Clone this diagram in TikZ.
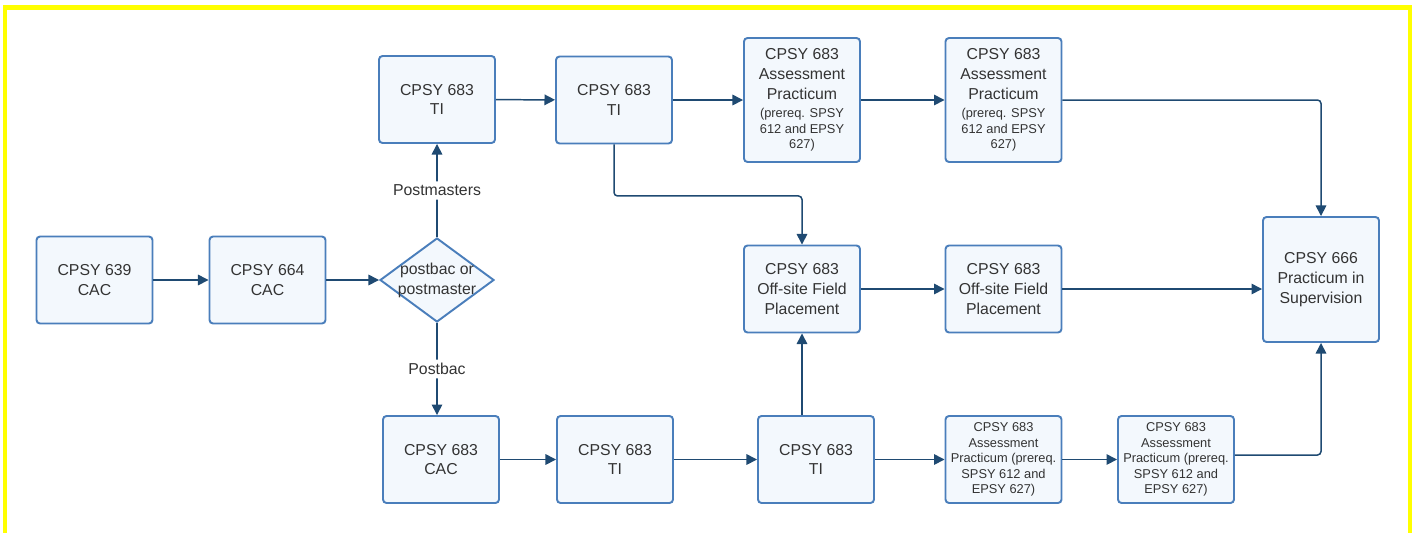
\documentclass[tikz,border=0pt]{standalone}
\usepackage{fontspec}
\setmainfont{Liberation Sans}
\usepackage{tikz}
\usetikzlibrary{arrows.meta,shapes.geometric}
\definecolor{boxLine}{HTML}{4A7EBB}
\definecolor{boxFill}{HTML}{F3F8FD}
\definecolor{flowLine}{HTML}{1F4A72}
\definecolor{textGrey}{HTML}{333333}
\definecolor{frameYellow}{HTML}{FFFF00}
\newcommand\prereqsize{\fontsize{7.3}{8.8}\selectfont}
\tikzset{
  course/.style={draw=boxLine,fill=boxFill,line width=1.1pt,rounded corners=2pt,
    minimum width=2.32cm,minimum height=1.74cm,inner sep=1pt,align=center,
    text=textGrey,font=\fontsize{9}{11.3}\selectfont},
  tallcourse/.style={course,minimum height=2.48cm},
  smalltext/.style={font=\prereqsize},
  decision/.style={diamond,draw=boxLine,fill=boxFill,line width=1.1pt,
    minimum width=2.28cm,minimum height=1.68cm,inner sep=-4.5pt,align=center,
    text=textGrey,font=\fontsize{9}{11.3}\selectfont},
  flow/.style={draw=flowLine,line width=0.85pt,rounded corners=2pt,
    -{Triangle[length=6pt,width=6pt]}},
  pathlabel/.style={fill=white,text=textGrey,inner sep=2pt,font=\fontsize{9}{11.3}\selectfont}
}
\begin{document}
\begin{tikzpicture}
\useasboundingbox (0,0) rectangle (28.26,-10.64);
\draw[frameYellow,line width=2.3pt] (0.10,-0.15) rectangle (28.20,-11);
% entry courses
\node[course] (cac639) at (1.89,-5.60) {CPSY 639\\CAC};
\node[course] (cac664) at (5.35,-5.60) {CPSY 664\\CAC};
\node[decision] (choice) at (8.74,-5.60) {postbac or\\postmaster};
% postmasters track
\node[course] (tiA) at (8.74,-1.99) {CPSY 683\\TI};
\node[course] (tiB) at (12.28,-2.00) {CPSY 683\\TI};
\node[tallcourse] (assessA) at (16.04,-2.00) {CPSY 683\\Assessment\\Practicum\\[-1pt]\prereqsize (prereq. SPSY\\[-2.5pt]\prereqsize 612 and EPSY\\[-2.5pt]\prereqsize 627)};
\node[tallcourse] (assessB) at (20.07,-2.00) {CPSY 683\\Assessment\\Practicum\\[-1pt]\prereqsize (prereq. SPSY\\[-2.5pt]\prereqsize 612 and EPSY\\[-2.5pt]\prereqsize 627)};
% field placements
\node[course] (fieldA) at (16.04,-5.78) {CPSY 683\\Off-site Field\\Placement};
\node[course] (fieldB) at (20.07,-5.78) {CPSY 683\\Off-site Field\\Placement};
\node[course,minimum height=2.50cm] (sup666) at (26.42,-5.59) {CPSY 666\\Practicum in\\Supervision};
% postbac track
\node[course] (cac683) at (8.82,-9.19) {CPSY 683\\CAC};
\node[course] (tiC) at (12.30,-9.19) {CPSY 683\\TI};
\node[course] (tiD) at (16.32,-9.19) {CPSY 683\\TI};
\node[course,smalltext] (assessC) at (20.07,-9.19) {CPSY 683\\Assessment\\Practicum (prereq.\\SPSY 612 and\\EPSY 627)};
\node[course,smalltext] (assessD) at (23.52,-9.19) {CPSY 683\\Assessment\\Practicum (prereq.\\SPSY 612 and\\EPSY 627)};
% connectors
\draw[flow] (cac639) -- (cac664);
\draw[flow] (cac664) -- (choice);
\draw[flow] (choice.north) -- node[pathlabel] (lblMasters) {Postmasters} (tiA.south);
\draw[flow] (choice.south) -- node[pathlabel] (lblBac) {Postbac} (choice.south |- cac683.north);
\draw[flow] (tiA) -- (tiB);
\draw[flow] (tiB) -- (assessA);
\draw[flow] (assessA) -- (assessB);
\draw[flow] (assessB.east) -| (sup666.north);
\draw[flow] (tiB.south) -- ++(0,-1.03) -| (fieldA.north);
\draw[flow] (fieldA) -- (fieldB);
\draw[flow] (fieldB.east) -- (fieldB.east -| sup666.west);
\draw[flow] (cac683) -- (tiC);
\draw[flow] (tiC) -- (tiD);
\draw[flow] (tiD.north -| fieldA.south) -- (fieldA.south);
\draw[flow] (tiD) -- (assessC);
\draw[flow] (assessC) -- (assessD);
\draw[flow] (assessD.east) ++(0,0.09) -| (sup666.south);
\end{tikzpicture}
\end{document}
